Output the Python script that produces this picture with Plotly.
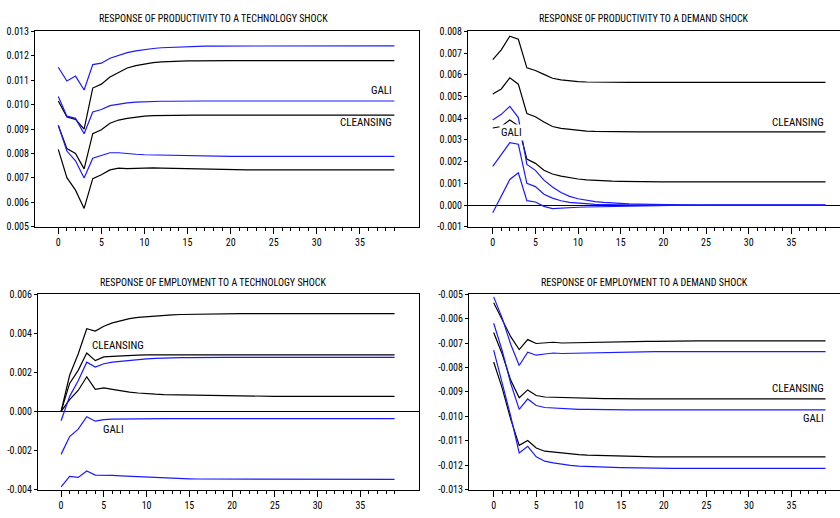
import plotly.graph_objects as go

periods = list(range(40))

# Panel 1: productivity response to technology shock
t_gali_hi = [0.01153, 0.01097, 0.01117, 0.01060, 0.01164, 0.01170, 0.01190, 0.01201, 0.01213, 0.01220,
             0.01226, 0.01230, 0.01233, 0.01235, 0.01237, 0.01238, 0.01239, 0.01240, 0.01240, 0.01240] + [0.01241] * 20
t_gali_mid = [0.01033, 0.00953, 0.00944, 0.00881, 0.00970, 0.00980, 0.00996, 0.01003, 0.01007, 0.01010,
              0.01012, 0.01013, 0.01014, 0.01014] + [0.01015] * 26
t_gali_lo = [0.00915, 0.00810, 0.00770, 0.00700, 0.00781, 0.00793, 0.00803, 0.00803, 0.00799, 0.00797,
             0.00795, 0.00794, 0.00793, 0.00792, 0.00791, 0.00790, 0.00790, 0.00789, 0.00789, 0.00789] + [0.00788] * 20
t_cl_hi = [0.01015, 0.00950, 0.00940, 0.00900, 0.01068, 0.01084, 0.01113, 0.01133, 0.01150, 0.01160,
           0.01167, 0.01172, 0.01175, 0.01177, 0.01178, 0.01179, 0.01179] + [0.01180] * 23
t_cl_mid = [0.00915, 0.00820, 0.00800, 0.00737, 0.00881, 0.00897, 0.00924, 0.00937, 0.00944, 0.00950,
            0.00953, 0.00955, 0.00956, 0.00956] + [0.00957] * 26
t_cl_lo = [0.00817, 0.00701, 0.00650, 0.00575, 0.00697, 0.00713, 0.00733, 0.00740, 0.00738, 0.00740,
           0.00741, 0.00741, 0.00740, 0.00739, 0.00738, 0.00737, 0.00736, 0.00735, 0.00735, 0.00734] + [0.00733] * 20

# Panel 2: productivity response to demand shock
d_cl_hi = [0.00670, 0.00715, 0.00778, 0.00764, 0.00632, 0.00620, 0.00602, 0.00584, 0.00577, 0.00572,
           0.00569, 0.00567, 0.00566] + [0.00565] * 27
d_cl_mid = [0.00512, 0.00535, 0.00586, 0.00557, 0.00422, 0.00407, 0.00383, 0.00362, 0.00353, 0.00348,
            0.00344, 0.00341, 0.00339, 0.00338] + [0.00337] * 26
d_cl_lo = [0.00355, 0.00362, 0.00392, 0.00365, 0.00212, 0.00192, 0.00160, 0.00143, 0.00133, 0.00126,
           0.00120, 0.00116, 0.00113, 0.00111, 0.00110, 0.00109, 0.00108] + [0.00107] * 23
d_gali_hi = [0.00392, 0.00418, 0.00455, 0.00403, 0.00187, 0.00160, 0.00115, 0.00083, 0.00058, 0.00040,
             0.00029, 0.00022, 0.00016, 0.00012, 0.00009, 0.00007, 0.00005, 0.00004, 0.00003, 0.00002,
             0.00002, 0.00001, 0.00001, 0.00001] + [0.0] * 16
d_gali_mid = [0.00178, 0.00232, 0.00287, 0.00280, 0.00100, 0.00085, 0.00050, 0.00032, 0.00020, 0.00012,
              0.00008, 0.00005, 0.00003, 0.00002, 0.00001, 0.00001] + [0.0] * 24
d_gali_lo = [-0.00035, 0.00042, 0.00118, 0.00149, 0.00020, 0.00014, -0.00006, -0.00016, -0.00013, -0.00011,
             -0.00010, -0.00009, -0.00008, -0.00006, -0.00005, -0.00004, -0.00003, -0.00003, -0.00002, -0.00002,
             -0.00001, -0.00001, -0.00001] + [0.0] * 17

# Panel 3: employment response to technology shock
e_cl_hi = [0.0, 0.00185, 0.00294, 0.00423, 0.00411, 0.00436, 0.00453, 0.00465, 0.00475, 0.00481,
           0.00485, 0.00489, 0.00492, 0.00494, 0.00496, 0.00497, 0.00498, 0.00499, 0.00499] + [0.00500] * 21
e_cl_mid = [0.0, 0.00143, 0.00210, 0.00299, 0.00260, 0.00279, 0.00282, 0.00285, 0.00287, 0.00288] + [0.00289] * 30
e_cl_lo = [0.0, 0.00060, 0.00107, 0.00177, 0.00113, 0.00120, 0.00113, 0.00105, 0.00099, 0.00094,
           0.00090, 0.00088, 0.00086, 0.00085, 0.00084, 0.00083, 0.00082, 0.00081, 0.00080, 0.00079,
           0.00079, 0.00078, 0.00078] + [0.00077] * 17
e_gali_hi = [-0.00048, 0.00077, 0.00157, 0.00252, 0.00227, 0.00244, 0.00252, 0.00257, 0.00262, 0.00266,
             0.00269, 0.00271, 0.00273, 0.00274, 0.00275, 0.00275] + [0.00276] * 24
e_gali_mid = [-0.00220, -0.00129, -0.00091, -0.00027, -0.00050, -0.00042, -0.00040, -0.00039, -0.00038,
              -0.00038] + [-0.00037] * 30
e_gali_lo = [-0.00387, -0.00333, -0.00338, -0.00305, -0.00326, -0.00326, -0.00328, -0.00330, -0.00332, -0.00335,
             -0.00338, -0.00340, -0.00341, -0.00342, -0.00343, -0.00345, -0.00346, -0.00346, -0.00347,
             -0.00347] + [-0.00348] * 20

# Panel 4: employment response to demand shock
f_cl_hi = [-0.00535, -0.00604, -0.00674, -0.00727, -0.00686, -0.00702, -0.00701, -0.00697, -0.00700, -0.00699,
           -0.00698, -0.00697, -0.00696, -0.00696, -0.00695, -0.00695, -0.00694, -0.00694, -0.00693, -0.00693,
           -0.00692, -0.00692] + [-0.00691] * 18
f_gali_hi = [-0.00511, -0.00598, -0.00705, -0.00792, -0.00738, -0.00750, -0.00745, -0.00741, -0.00743, -0.00742,
             -0.00741, -0.00740, -0.00739, -0.00738, -0.00737, -0.00737, -0.00736, -0.00736] + [-0.00735] * 22
f_cl_mid = [-0.00657, -0.00745, -0.00852, -0.00924, -0.00892, -0.00915, -0.00921, -0.00922, -0.00925, -0.00926,
            -0.00926, -0.00927, -0.00927, -0.00928, -0.00928] + [-0.00929] * 25
f_gali_mid = [-0.00619, -0.00731, -0.00865, -0.00972, -0.00929, -0.00956, -0.00964, -0.00966, -0.00970, -0.00971,
              -0.00972, -0.00972, -0.00973, -0.00973] + [-0.00974] * 26
f_cl_lo = [-0.00778, -0.00885, -0.01012, -0.01119, -0.01099, -0.01130, -0.01143, -0.01147, -0.01151, -0.01154,
           -0.01157, -0.01159, -0.01160, -0.01161, -0.01162, -0.01164, -0.01164, -0.01165, -0.01165] + [-0.01166] * 21
f_gali_lo = [-0.00729, -0.00865, -0.00999, -0.01150, -0.01123, -0.01166, -0.01184, -0.01191, -0.01197, -0.01201,
             -0.01204, -0.01206, -0.01207, -0.01208, -0.01209, -0.01210, -0.01211, -0.01211, -0.01212,
             -0.01212] + [-0.01213] * 20

titles = ["RESPONSE OF PRODUCTIVITY TO A TECHNOLOGY SHOCK",
          "RESPONSE OF PRODUCTIVITY TO A DEMAND SHOCK",
          "RESPONSE OF EMPLOYMENT TO A TECHNOLOGY SHOCK",
          "RESPONSE OF EMPLOYMENT TO A DEMAND SHOCK"]

x_tickvals = [0, 5, 10, 15, 20, 25, 30, 35]
y1_ticks = [0.005, 0.006, 0.007, 0.008, 0.009, 0.010, 0.011, 0.012, 0.013]
y1_text = ["0.005", "0.006", "0.007", "0.008", "0.009", "0.010", "0.011", "0.012", "0.013"]
y2_ticks = [-0.001, 0.0, 0.001, 0.002, 0.003, 0.004, 0.005, 0.006, 0.007, 0.008]
y2_text = ["-0.001", "0.000", "0.001", "0.002", "0.003", "0.004", "0.005", "0.006", "0.007", "0.008"]
y3_ticks = [-0.004, -0.002, 0.0, 0.002, 0.004, 0.006]
y3_text = ["-0.004", "-0.002", "0.000", "0.002", "0.004", "0.006"]
y4_ticks = [-0.013, -0.012, -0.011, -0.010, -0.009, -0.008, -0.007, -0.006, -0.005]
y4_text = ["-0.013", "-0.012", "-0.011", "-0.010", "-0.009", "-0.008", "-0.007", "-0.006", "-0.005"]

BLUE = "#1a1aff"
BLACK = "#000000"
FONT = "Roboto Condensed, Liberation Sans, sans-serif"

fig = go.Figure()

panels = [
    ("x", "y", [t_gali_hi, t_gali_mid, t_gali_lo], [t_cl_hi, t_cl_mid, t_cl_lo]),
    ("x2", "y2", [d_gali_hi, d_gali_mid, d_gali_lo], [d_cl_hi, d_cl_mid, d_cl_lo]),
    ("x3", "y3", [e_gali_hi, e_gali_mid, e_gali_lo], [e_cl_hi, e_cl_mid, e_cl_lo]),
    ("x4", "y4", [f_gali_hi, f_gali_mid, f_gali_lo], [f_cl_hi, f_cl_mid, f_cl_lo]),
]
for xa, ya, gali, cl in panels:
    for s in cl:
        fig.add_trace(go.Scatter(x=periods, y=s, mode="lines", xaxis=xa, yaxis=ya,
                                 line=dict(color=BLACK, width=1.2), showlegend=False, hoverinfo="skip"))
    for s in gali:
        fig.add_trace(go.Scatter(x=periods, y=s, mode="lines", xaxis=xa, yaxis=ya,
                                 line=dict(color=BLUE, width=1.2), showlegend=False, hoverinfo="skip"))

W, H = 840, 518
def px_x(p):
    return p / W
def px_y(p):
    return 1 - p / H

dom = {
    1: ([35, 418.5], [26, 226]),
    2: ([468, 840], [26, 226]),
    3: ([38, 418.5], [295, 495]),
    4: ([469, 840], [295, 495]),
}
xranges = {1: [-2.7, 41.8], 2: [-2.9, 40.7], 3: [-2.7, 41.8], 4: [-2.9, 40.7]}
yspecs = {
    1: ([0.005, 0.013], y1_ticks, y1_text, False),
    2: ([-0.001, 0.008], y2_ticks, y2_text, True),
    3: ([-0.004, 0.006], y3_ticks, y3_text, True),
    4: ([-0.013, -0.005], y4_ticks, y4_text, False),
}
minor_vals = [p for p in periods if p % 5 != 0]

layout = dict(width=W, height=H, margin=dict(l=0, r=0, t=0, b=0),
              paper_bgcolor="white", plot_bgcolor="white",
              font=dict(family=FONT, size=10, color="black"))
for i in range(1, 5):
    (xl, xr), (yt, yb) = dom[i]
    rng, tv, tt, zero = yspecs[i]
    sx = "" if i == 1 else str(i)
    layout["xaxis" + sx] = dict(
        domain=[px_x(xl), min(1.0, px_x(xr))], range=xranges[i], anchor="y" + sx,
        showline=True, linecolor="black", linewidth=1, mirror=True, showgrid=False, zeroline=False,
        tickmode="array", tickvals=x_tickvals, ticks="outside", ticklen=6, tickcolor="black",
        minor=dict(tickmode="array", tickvals=minor_vals, ticks="outside", ticklen=3,
                   tickcolor="black", showgrid=False),
        tickfont=dict(family=FONT, size=10, color="black"))
    layout["yaxis" + sx] = dict(
        domain=[px_y(yb), px_y(yt)], range=rng, anchor="x" + sx,
        showline=True, linecolor="black", linewidth=1, mirror=(i in (1, 3)), showgrid=False,
        zeroline=zero, zerolinecolor="black", zerolinewidth=1,
        tickmode="array", tickvals=tv, ticktext=tt, ticks="outside", ticklen=3, tickcolor="black",
        tickfont=dict(family=FONT, size=10, color="black"))

annotations = []
title_pos = [(213, 13), (644, 13), (213, 283), (644, 283)]
for t, (cx, cy) in zip(titles, title_pos):
    annotations.append(dict(text=t, x=cx / W, y=px_y(cy), xref="paper", yref="paper",
                            xanchor="center", yanchor="middle", showarrow=False,
                            font=dict(family=FONT, size=10, color="black")))

lab_font = dict(family=FONT, size=11, color="black")
annotations += [
    dict(text="GALI", x=39, y=0.01057, xref="x", yref="y", xanchor="right", yanchor="middle",
         showarrow=False, font=lab_font),
    dict(text="CLEANSING", x=39, y=0.00928, xref="x", yref="y", xanchor="right", yanchor="middle",
         showarrow=False, font=lab_font),
    dict(text="CLEANSING", x=39, y=0.00382, xref="x2", yref="y2", xanchor="right", yanchor="middle",
         showarrow=False, font=lab_font),
    dict(text="GALI", x=0.7, y=0.00332, xref="x2", yref="y2", xanchor="left", yanchor="middle",
         showarrow=False, font=lab_font, bgcolor="white", borderpad=1),
    dict(text="CLEANSING", x=3.4, y=0.00339, xref="x3", yref="y3", xanchor="left", yanchor="middle",
         showarrow=False, font=lab_font),
    dict(text="GALI", x=4.7, y=-0.00094, xref="x3", yref="y3", xanchor="left", yanchor="middle",
         showarrow=False, font=lab_font),
    dict(text="CLEANSING", x=39, y=-0.00885, xref="x4", yref="y4", xanchor="right", yanchor="middle",
         showarrow=False, font=lab_font),
    dict(text="GALI", x=39, y=-0.01008, xref="x4", yref="y4", xanchor="right", yanchor="middle",
         showarrow=False, font=lab_font),
]
layout["annotations"] = annotations
fig.update_layout(**layout)

fig.write_html("out.html")
